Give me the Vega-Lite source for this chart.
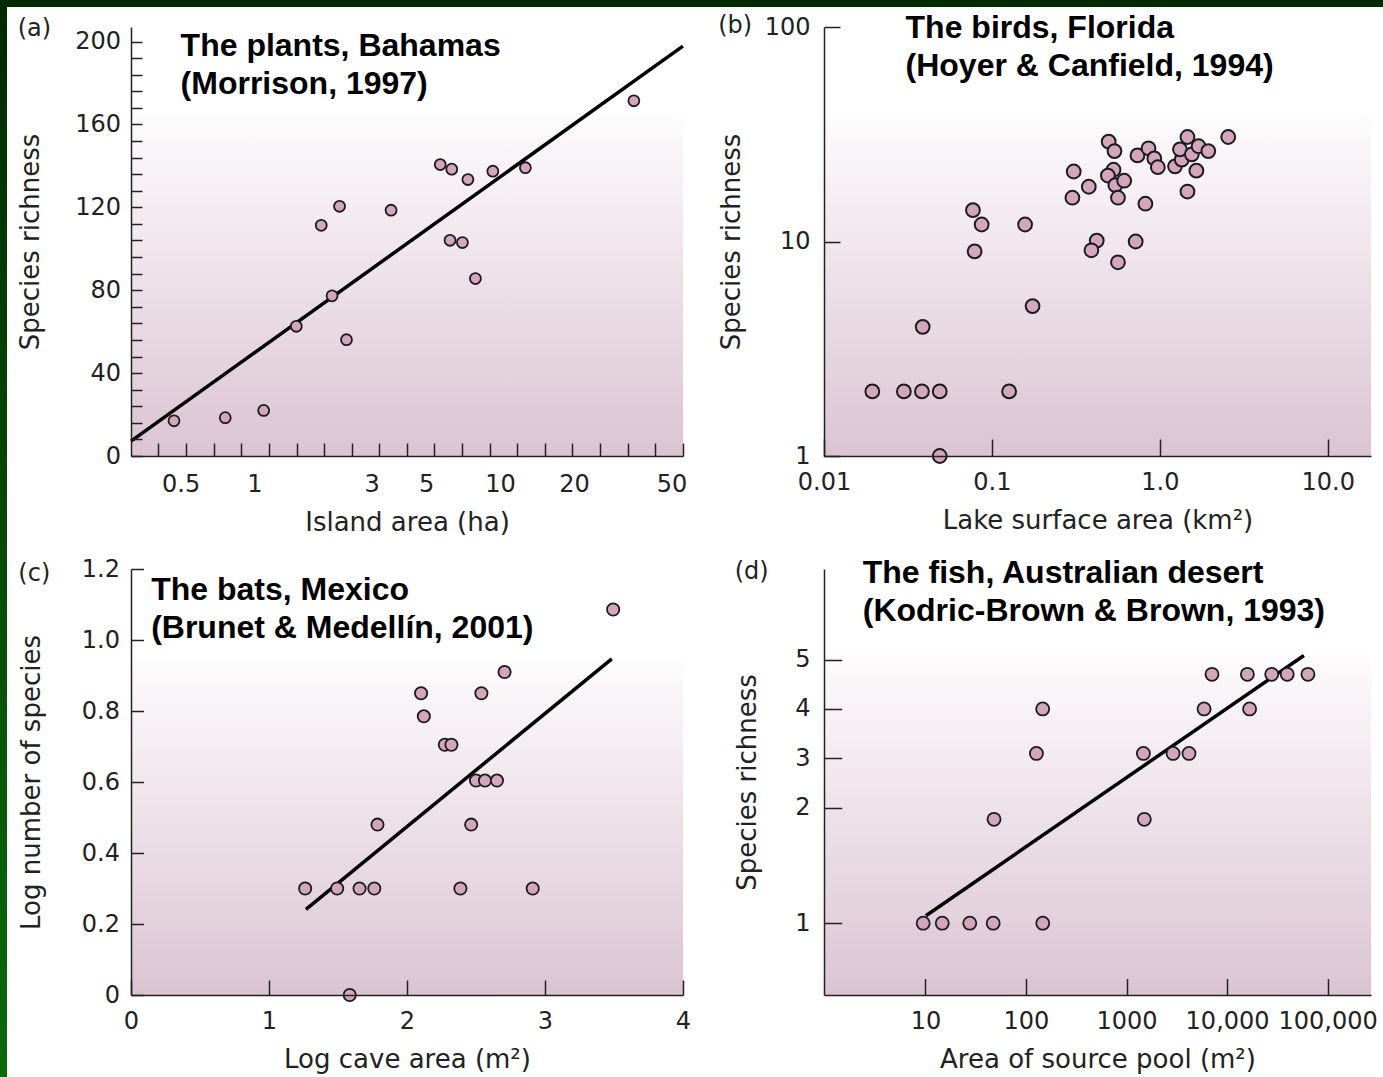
{
  "$schema": "https://vega.github.io/schema/vega-lite/v6.json",
  "background": "white",
  "padding": 0,
  "config": {
    "font": "DejaVu Sans",
    "view": {"stroke": null},
    "axis": {
      "zindex": 1, "grid": false, "domainColor": "#222", "domainWidth": 1.5,
      "tickColor": "#222", "tickWidth": 1.5,
      "labelFont": "DejaVu Sans", "labelFontSize": 24, "labelColor": "#222",
      "labelFlush": false, "labelOverlap": false,
      "titleFont": "DejaVu Sans", "titleFontSize": 26, "titleFontWeight": "normal", "titleColor": "#222"
    },
    "title": {"font": "DejaVu Sans", "fontSize": 24, "fontWeight": "normal", "anchor": "start", "frame": "bounds", "color": "#222"}
  },
  "spacing": 0,
  "bounds": "flush",
  "vconcat": [
    {
      "width": 1383, "height": 7,
      "data": {"values": [{}]},
      "mark": {"type": "rect", "color": "#022a02"},
      "encoding": {}
    },
    {
      "spacing": 124,
      "bounds": "flush",
      "hconcat": [
        {
          "width": 7, "height": 1070,
          "data": {"values": [{}]},
          "mark": {"type": "rect", "fill": {"gradient": "linear", "x1": 0, "y1": 0, "x2": 0, "y2": 1, "stops": [{"offset": 0, "color": "#022a02"}, {"offset": 1, "color": "#0b6a0b"}]}},
          "encoding": {}
        },
        {
          "spacing": 19,
          "bounds": "flush",
          "vconcat": [
            {
              "width": 1, "height": 1,
              "data": {"values": [{}]},
              "mark": {"type": "rect", "opacity": 0},
              "encoding": {}
            },
            {
              "columns": 2,
              "spacing": {"row": 113, "column": 141},
              "bounds": "flush",
              "concat": [
                {
                  "width": 552, "height": 429,
                  "title": {"text": "(a)", "offset": -14},
                  "layer": [
                    {
                      "data": {"values": [{}]},
                      "mark": {"type": "rect", "fill": {"gradient": "linear", "x1": 0, "y1": 0, "x2": 0, "y2": 1, "stops": [{"offset": 0, "color": "#fdfbfc"}, {"offset": 1, "color": "#dbc4d2"}]}},
                      "encoding": {"x": {"datum": 0.314}, "x2": {"datum": 55.65}, "y": {"datum": 164}, "y2": {"datum": 0}}
                    },
                    {
                      "data": {"values": [{"area": 0.314, "richness": 7.2}, {"area": 55.6, "richness": 197.8}]},
                      "mark": {"type": "line", "color": "#000", "strokeWidth": 3.5},
                      "encoding": {
                        "x": {"field": "area", "type": "quantitative"},
                        "y": {"field": "richness", "type": "quantitative"}
                      }
                    },
                    {
                      "data": {"values": [
                        {"area": 0.47, "richness": 17}, {"area": 0.76, "richness": 18.5}, {"area": 1.09, "richness": 22}, {"area": 1.48, "richness": 62.6},
                        {"area": 1.87, "richness": 111.3}, {"area": 2.07, "richness": 77.3}, {"area": 2.22, "richness": 120.5}, {"area": 2.37, "richness": 56.1},
                        {"area": 3.6, "richness": 118.6}, {"area": 5.71, "richness": 140.6}, {"area": 6.36, "richness": 138.4}, {"area": 6.26, "richness": 104.1},
                        {"area": 7.03, "richness": 103}, {"area": 7.4, "richness": 133.4}, {"area": 7.94, "richness": 85.6}, {"area": 9.35, "richness": 137.4},
                        {"area": 12.69, "richness": 139.1}, {"area": 35.1, "richness": 171.4}
                      ]},
                      "mark": {"type": "circle", "size": 120, "color": "#d3a6be", "opacity": 1, "stroke": "#1c1c1c", "strokeWidth": 1.8},
                      "encoding": {
                        "x": {"field": "area", "type": "quantitative",
                          "scale": {"type": "log", "domain": [0.314, 55.65], "nice": false},
                          "axis": {"title": "Island area (ha)", "zindex": 1, "labelOverlap": false, "tickCount": 200,
                            "values": [0.406, 0.526, 0.682, 0.884, 1.144, 1.483, 1.92, 2.488, 3.223, 4.175, 5.408, 7.005, 9.075, 11.76, 15.23, 19.72, 25.55, 33.1, 42.87, 55.5, 0.5, 1, 3, 5, 10, 20, 50],
                            "labelExpr": "indexof([0.5,1,3,5,10,20,50], datum.value) >= 0 ? format(datum.value, '~g') : ''",
                            "tickOpacity": {"condition": {"test": "indexof([0.5,1,3,5,10,20,50], datum.value) >= 0", "value": 0}, "value": 1},
                            "tickSize": -13, "labelPadding": 29, "titlePadding": 13}},
                        "y": {"field": "richness", "type": "quantitative",
                          "scale": {"domain": [0, 207], "nice": false, "zero": false},
                          "axis": {"title": "Species richness", "zindex": 1, "labelOverlap": false, "tickCount": 200,
                            "values": [0, 8, 16, 24, 32, 40, 48, 56, 64, 72, 80, 88, 96, 104, 112, 120, 128, 136, 144, 152, 160, 168, 176, 184, 192, 200],
                            "labelExpr": "datum.value % 40 == 0 ? format(datum.value, 'd') : ''",
                            "tickSize": -11, "labelPadding": 21.5, "titlePadding": 31}}
                      }
                    },
                    {
                      "data": {"values": [{"t": "The plants, Bahamas\n(Morrison, 1997)"}]},
                      "mark": {"type": "text", "align": "left", "baseline": "alphabetic", "font": "Liberation Sans", "fontWeight": "bold", "fontSize": 32, "lineHeight": 38, "lineBreak": "\n", "color": "#000"},
                      "encoding": {"x": {"datum": 0.5}, "y": {"datum": 193}, "text": {"field": "t"}}
                    }
                  ]
                },
                {
                  "width": 547, "height": 429,
                  "title": {"text": "(b)", "offset": -26},
                  "layer": [
                    {
                      "data": {"values": [{}]},
                      "mark": {"type": "rect", "fill": {"gradient": "linear", "x1": 0, "y1": 0, "x2": 0, "y2": 1, "stops": [{"offset": 0, "color": "#fdfbfc"}, {"offset": 1, "color": "#dbc4d2"}]}},
                      "encoding": {"x": {"datum": 0.01}, "x2": {"datum": 18.1}, "y": {"datum": 38.3}, "y2": {"datum": 1}}
                    },
                    {
                      "data": {"values": [
                        {"area": 0.0194, "richness": 2}, {"area": 0.0299, "richness": 2}, {"area": 0.0383, "richness": 2}, {"area": 0.0489, "richness": 2},
                        {"area": 0.1266, "richness": 2}, {"area": 0.0489, "richness": 1}, {"area": 0.0387, "richness": 4}, {"area": 0.1746, "richness": 5},
                        {"area": 0.0789, "richness": 9}, {"area": 0.0771, "richness": 14}, {"area": 0.0869, "richness": 12}, {"area": 0.1576, "richness": 12},
                        {"area": 0.3016, "richness": 16}, {"area": 0.307, "richness": 21.2}, {"area": 0.3776, "richness": 18}, {"area": 0.421, "richness": 10.1},
                        {"area": 0.3914, "richness": 9.1}, {"area": 0.5633, "richness": 8}, {"area": 0.7182, "richness": 10}, {"area": 0.8204, "richness": 15},
                        {"area": 0.4959, "richness": 29.2}, {"area": 0.537, "richness": 26.4}, {"area": 0.53, "richness": 21.6}, {"area": 0.4905, "richness": 20.3},
                        {"area": 0.5435, "richness": 18.3}, {"area": 0.6135, "richness": 19.2}, {"area": 0.5633, "richness": 16}, {"area": 0.7362, "richness": 25.2},
                        {"area": 0.856, "richness": 27.2}, {"area": 0.927, "richness": 24.4}, {"area": 0.973, "richness": 22.2}, {"area": 1.232, "richness": 22.4},
                        {"area": 1.351, "richness": 24.1}, {"area": 1.318, "richness": 26.9}, {"area": 1.461, "richness": 30.7}, {"area": 1.551, "richness": 25.5},
                        {"area": 1.701, "richness": 27.8}, {"area": 1.944, "richness": 26.4}, {"area": 1.651, "richness": 21.4}, {"area": 1.461, "richness": 17.1},
                        {"area": 2.555, "richness": 30.7}
                      ]},
                      "mark": {"type": "circle", "size": 190, "color": "#d3a6be", "opacity": 1, "stroke": "#1c1c1c", "strokeWidth": 2},
                      "encoding": {
                        "x": {"field": "area", "type": "quantitative",
                          "scale": {"type": "log", "domain": [0.01, 18.1], "nice": false},
                          "axis": {"title": "Lake surface area (km²)", "zindex": 1, "labelOverlap": false, "tickCount": 200,
                            "values": [0.01, 0.1, 1, 10],
                            "labelExpr": "datum.value < 0.05 ? '0.01' : datum.value < 0.5 ? '0.1' : format(datum.value, '.1f')",
                            "tickSize": -17, "labelPadding": 31.6, "titlePadding": 13}},
                        "y": {"field": "richness", "type": "quantitative",
                          "scale": {"type": "log", "domain": [1, 100], "nice": false},
                          "axis": {"title": "Species richness", "zindex": 1, "labelOverlap": false, "tickCount": 200,
                            "values": [1, 10, 100],
                            "labelExpr": "format(datum.value, 'd')",
                            "tickSize": -16, "labelPadding": 30, "titlePadding": 20}}
                      }
                    },
                    {
                      "data": {"values": [{"t": "The birds, Florida\n(Hoyer & Canfield, 1994)"}]},
                      "mark": {"type": "text", "align": "left", "baseline": "alphabetic", "font": "Liberation Sans", "fontWeight": "bold", "fontSize": 32, "lineHeight": 38, "lineBreak": "\n", "color": "#000"},
                      "encoding": {"x": {"datum": 0.0306}, "y": {"datum": 89}, "text": {"field": "t"}}
                    }
                  ]
                },
                {
                  "width": 552, "height": 426,
                  "title": {"text": "(c)", "offset": -29},
                  "layer": [
                    {
                      "data": {"values": [{}]},
                      "mark": {"type": "rect", "fill": {"gradient": "linear", "x1": 0, "y1": 0, "x2": 0, "y2": 1, "stops": [{"offset": 0, "color": "#fdfbfc"}, {"offset": 1, "color": "#dbc4d2"}]}},
                      "encoding": {"x": {"datum": 0}, "x2": {"datum": 4}, "y": {"datum": 0.94}, "y2": {"datum": 0}}
                    },
                    {
                      "data": {"values": [{"logarea": 1.268, "logspecies": 0.241}, {"logarea": 3.484, "logspecies": 0.947}]},
                      "mark": {"type": "line", "color": "#000", "strokeWidth": 3.5},
                      "encoding": {
                        "x": {"field": "logarea", "type": "quantitative"},
                        "y": {"field": "logspecies", "type": "quantitative"}
                      }
                    },
                    {
                      "data": {"values": [
                        {"logarea": 1.262, "logspecies": 0.3}, {"logarea": 1.494, "logspecies": 0.3}, {"logarea": 1.656, "logspecies": 0.3}, {"logarea": 1.763, "logspecies": 0.3},
                        {"logarea": 2.387, "logspecies": 0.3}, {"logarea": 2.911, "logspecies": 0.3}, {"logarea": 1.585, "logspecies": 0}, {"logarea": 1.786, "logspecies": 0.48},
                        {"logarea": 2.465, "logspecies": 0.48}, {"logarea": 2.102, "logspecies": 0.85}, {"logarea": 2.122, "logspecies": 0.785}, {"logarea": 2.274, "logspecies": 0.705},
                        {"logarea": 2.322, "logspecies": 0.705}, {"logarea": 2.5, "logspecies": 0.604}, {"logarea": 2.565, "logspecies": 0.604}, {"logarea": 2.652, "logspecies": 0.604},
                        {"logarea": 2.539, "logspecies": 0.85}, {"logarea": 2.707, "logspecies": 0.91}, {"logarea": 3.494, "logspecies": 1.086}
                      ]},
                      "mark": {"type": "circle", "size": 150, "color": "#d3a6be", "opacity": 1, "stroke": "#1c1c1c", "strokeWidth": 1.8},
                      "encoding": {
                        "x": {"field": "logarea", "type": "quantitative",
                          "scale": {"domain": [0, 4], "nice": false, "zero": false},
                          "axis": {"title": "Log cave area (m²)", "zindex": 1, "labelOverlap": false, "tickCount": 200,
                            "values": [0, 1, 2, 3, 4],
                            "labelExpr": "format(datum.value, 'd')",
                            "tickSize": -15, "labelPadding": 29.6, "titlePadding": 13}},
                        "y": {"field": "logspecies", "type": "quantitative",
                          "scale": {"domain": [0, 1.2], "nice": false, "zero": false},
                          "axis": {"title": "Log number of species", "zindex": 1, "labelOverlap": false, "tickCount": 200,
                            "values": [0, 0.2, 0.4, 0.6, 0.8, 1.0, 1.2],
                            "labelExpr": "datum.value == 0 ? '0' : format(datum.value, '.1f')",
                            "tickSize": -12.5, "labelPadding": 24, "titlePadding": 37}}
                      }
                    },
                    {
                      "data": {"values": [{"t": "The bats, Mexico\n(Brunet & Medellín, 2001)"}]},
                      "mark": {"type": "text", "align": "left", "baseline": "alphabetic", "font": "Liberation Sans", "fontWeight": "bold", "fontSize": 32, "lineHeight": 38, "lineBreak": "\n", "color": "#000"},
                      "encoding": {"x": {"datum": 0.146}, "y": {"datum": 1.113}, "text": {"field": "t"}}
                    }
                  ]
                },
                {
                  "width": 547, "height": 426,
                  "title": {"text": "(d)", "offset": -27},
                  "layer": [
                    {
                      "data": {"values": [{}]},
                      "mark": {"type": "rect", "fill": {"gradient": "linear", "x1": 0, "y1": 0, "x2": 0, "y2": 1, "stops": [{"offset": 0, "color": "#fdfbfc"}, {"offset": 1, "color": "#dbc4d2"}]}},
                      "encoding": {"x": {"datum": 0.98}, "x2": {"datum": 270000}, "y": {"datum": 5.08}, "y2": {"datum": 0.378}}
                    },
                    {
                      "data": {"values": [{"pool": 10.1, "richness": 1.065}, {"pool": 58080, "richness": 5.08}]},
                      "mark": {"type": "line", "color": "#000", "strokeWidth": 3.5},
                      "encoding": {
                        "x": {"field": "pool", "type": "quantitative"},
                        "y": {"field": "richness", "type": "quantitative"}
                      }
                    },
                    {
                      "data": {"values": [
                        {"pool": 9.5, "richness": 1}, {"pool": 14.7, "richness": 1}, {"pool": 27.6, "richness": 1}, {"pool": 47.2, "richness": 1}, {"pool": 146.9, "richness": 1},
                        {"pool": 48.1, "richness": 1.9}, {"pool": 1503, "richness": 1.9},
                        {"pool": 127, "richness": 3.1}, {"pool": 1472, "richness": 3.1}, {"pool": 2904, "richness": 3.1}, {"pool": 4180, "richness": 3.1},
                        {"pool": 146.6, "richness": 4}, {"pool": 5906, "richness": 4}, {"pool": 16750, "richness": 4},
                        {"pool": 7080, "richness": 4.7}, {"pool": 15920, "richness": 4.7}, {"pool": 27790, "richness": 4.7}, {"pool": 39630, "richness": 4.7}, {"pool": 63680, "richness": 4.7}
                      ]},
                      "mark": {"type": "circle", "size": 170, "color": "#d3a6be", "opacity": 1, "stroke": "#1c1c1c", "strokeWidth": 1.8},
                      "encoding": {
                        "x": {"field": "pool", "type": "quantitative",
                          "scale": {"type": "log", "domain": [0.98, 270000], "nice": false},
                          "axis": {"title": "Area of source pool (m²)", "zindex": 1, "labelOverlap": false, "tickCount": 200,
                            "values": [10, 100, 1000, 10000, 100000],
                            "labelExpr": "datum.value >= 10000 ? format(datum.value, ',') : format(datum.value, 'd')",
                            "tickSize": -16.4, "labelPadding": 31, "titlePadding": 13}},
                        "y": {"field": "richness", "type": "quantitative",
                          "scale": {"type": "linear", "domain": [0.378, 1, 2, 5, 6.83], "range": [426, 354.2, 238.8, 90.5, 0], "nice": false, "zero": false},
                          "axis": {"title": "Species richness", "zindex": 1, "labelOverlap": false, "tickCount": 200,
                            "values": [1, 2, 3, 4, 5],
                            "labelExpr": "format(datum.value, 'd')",
                            "tickSize": -17.7, "labelPadding": 31.7, "titlePadding": 34}}
                      }
                    },
                    {
                      "data": {"values": [{"t": "The fish, Australian desert\n(Kodric-Brown & Brown, 1993)"}]},
                      "mark": {"type": "text", "align": "left", "baseline": "alphabetic", "font": "Liberation Sans", "fontWeight": "bold", "fontSize": 32, "lineHeight": 38, "lineBreak": "\n", "color": "#000"},
                      "encoding": {"x": {"datum": 2.38}, "y": {"datum": 6.55}, "text": {"field": "t"}}
                    }
                  ]
                }
              ]
            }
          ]
        }
      ]
    }
  ]
}
